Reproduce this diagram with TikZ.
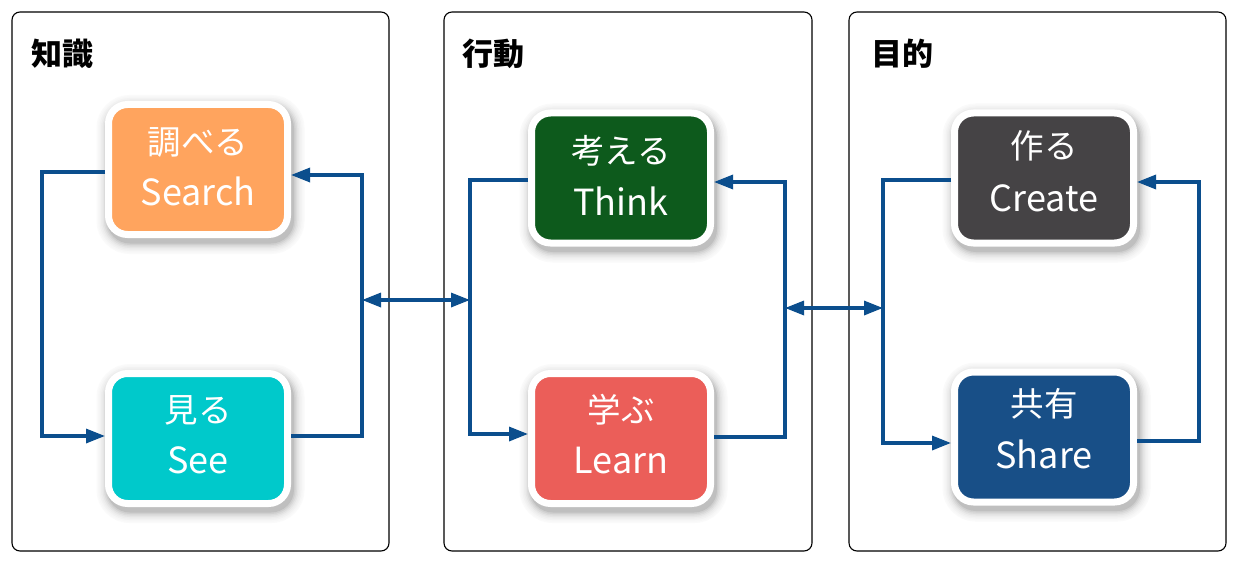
\documentclass[tikz,border=0pt]{standalone}
\usepackage{fontspec}
\setmainfont{Noto Sans CJK JP}
\usetikzlibrary{arrows.meta}
\definecolor{conncol}{HTML}{0B4E8D}
\definecolor{cSearch}{HTML}{FFA45E}
\definecolor{cSee}{HTML}{00C9CB}
\definecolor{cThink}{HTML}{0D5A1C}
\definecolor{cLearn}{HTML}{EB5E59}
\definecolor{cCreate}{HTML}{454345}
\definecolor{cShare}{HTML}{184F87}
\tikzset{
  panel/.style={draw=black, line width=1.1pt, rounded corners=8pt, fill=white},
  ptitle/.style={anchor=west, font=\fontsize{31}{33}\selectfont\bfseries, inner sep=0pt},
  shlayer/.style 2 args={preaction={draw=black!#2, fill=black!#2, line width=#1,
      transform canvas={xshift=2.5pt, yshift=-5pt}}},
  card/.style={draw=white, line width=7pt, rounded corners=19pt,
    minimum width=179pt, minimum height=130pt, inner sep=0pt,
    shlayer={29pt}{2}, shlayer={26pt}{3}, shlayer={23pt}{5}, shlayer={20pt}{7},
    shlayer={17pt}{10}, shlayer={14pt}{14}, shlayer={11pt}{19}, shlayer={8pt}{25}},
  jp/.style={text=white, font=\fontsize{33.5}{35}\selectfont, inner sep=0pt, anchor=center},
  en/.style={text=white, font=\fontsize{36}{40}\selectfont, inner sep=0pt, anchor=base},
  conn/.style={draw=conncol, line width=3.3pt, line join=miter},
  tip/.style={-{Triangle[length=19pt,width=14pt]}},
  dtip/.style={{Triangle[length=19pt,width=14pt]}-{Triangle[length=19pt,width=14pt]}}
}
\begin{document}
\begin{tikzpicture}[x=1pt,y=-1pt]
\useasboundingbox (0,0) rectangle (1246,567);
% panels
\draw[panel] (12,12) rectangle (389,551);
\draw[panel] (444,12) rectangle (812,551);
\draw[panel] (849,12) rectangle (1226,551);
\node[ptitle] (t1) at (31,54) {知識};
\node[ptitle] (t2) at (462,54) {行動};
\node[ptitle] (t3) at (871,54) {目的};
% cards
\node[card, fill=cSearch] (search) at (198,169.5) {};
\node[card, fill=cSee] (see) at (198,438.5) {};
\node[card, fill=cThink] (think) at (621,178) {};
\node[card, fill=cLearn] (learn) at (621,438.5) {};
\node[card, fill=cCreate] (create) at (1044,178) {};
\node[card, fill=cShare] (share) at (1044,437) {};
% texts
\node[jp] (search1) at (198,142) {調べる};
\node[en] (search2) at (198,205) {Search};
\node[jp] (see1) at (198,410) {見る};
\node[en] (see2) at (198,473) {See};
\node[jp] (think1) at (621,151) {考える};
\node[en] (think2) at (621,215) {Think};
\node[jp] (learn1) at (621,410) {学ぶ};
\node[en] (learn2) at (621,473) {Learn};
\node[jp] (create1) at (1044,146) {作る};
\node[en] (create2) at (1044,211) {Create};
\node[jp] (share1) at (1044,404) {共有};
\node[en] (share2) at (1044,468) {Share};
% connector end points on the cards
\coordinate (sW) at ([yshift=-2.5pt]search.west);
\coordinate (sE) at ([yshift=-5.5pt]search.east);
\coordinate (eW) at ([yshift=2.5pt]see.west);
\coordinate (eE) at ([yshift=2.5pt]see.east);
\coordinate (tW) at ([yshift=-2pt]think.west);
\coordinate (tE) at ([yshift=-4pt]think.east);
\coordinate (lW) at ([yshift=4.5pt]learn.west);
\coordinate (lE) at ([yshift=1.5pt]learn.east);
\coordinate (cW) at ([yshift=-2pt]create.west);
\coordinate (cE) at ([yshift=-4pt]create.east);
\coordinate (hW) at ([yshift=-6pt]share.west);
\coordinate (hE) at ([yshift=-4pt]share.east);
% vertical rails
\coordinate (xL1) at (42,0);
\coordinate (xR1) at (362,0);
\coordinate (xL2) at (470,0);
\coordinate (xR2) at (785,0);
\coordinate (xL3) at (883,0);
\coordinate (xR3) at (1199,0);
\coordinate (d1a) at (362,300);
\coordinate (d1b) at (470,300);
\coordinate (d2a) at (785,308);
\coordinate (d2b) at (883,308);
% left loop
\draw[conn,tip] (sW) -| (xL1 |- eW) -- (eW);
\draw[conn,tip] (eE) -| (xR1 |- sE) -- (sE);
% middle loop
\draw[conn,tip] (tW) -| (xL2 |- lW) -- (lW);
\draw[conn,tip] (lE) -| (xR2 |- tE) -- (tE);
% right loop
\draw[conn,tip] (cW) -| (xL3 |- hW) -- (hW);
\draw[conn,tip] (hE) -| (xR3 |- cE) -- (cE);
% double arrows
\draw[conn,dtip] (d1a) -- (d1b);
\draw[conn,dtip] (d2a) -- (d2b);
\end{tikzpicture}
\end{document}
